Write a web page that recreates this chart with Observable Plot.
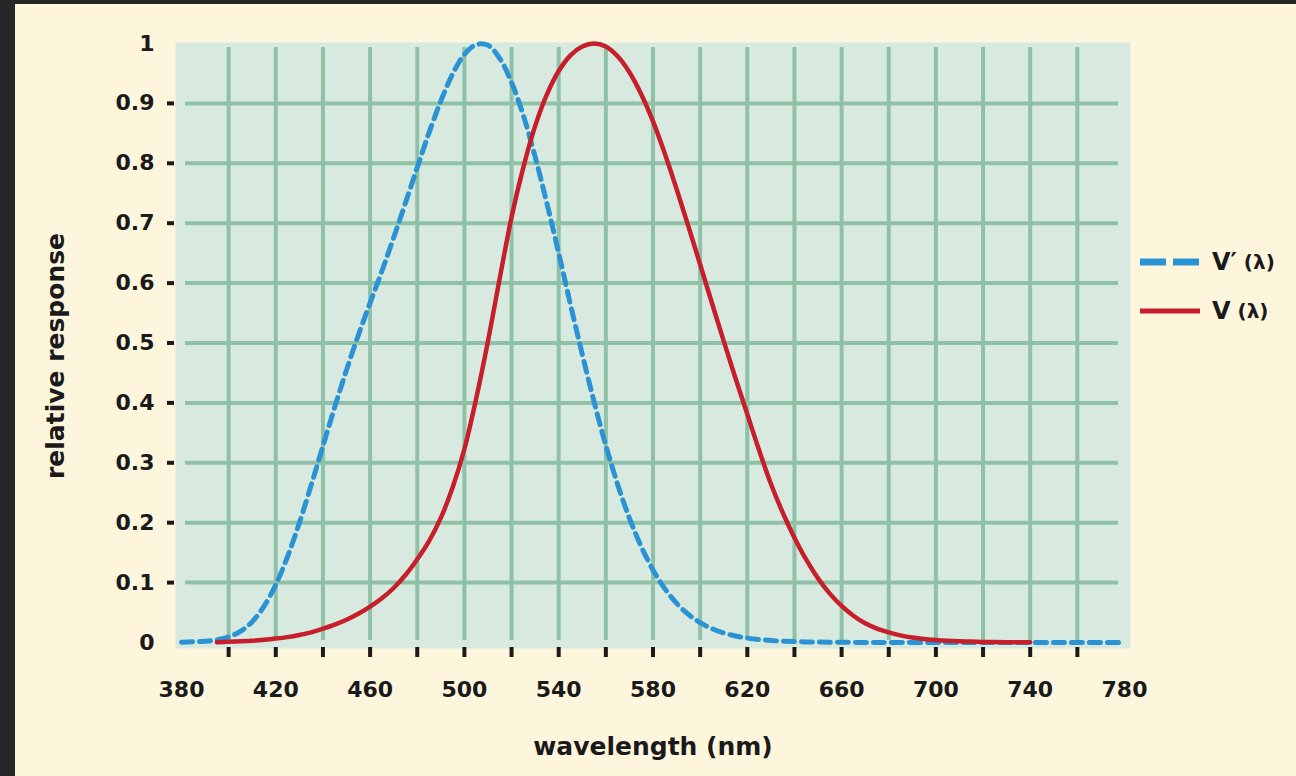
<!DOCTYPE html>
<html>
<head>
<meta charset="utf-8">
<script src="https://cdn.jsdelivr.net/npm/d3@7"></script>
<script src="https://cdn.jsdelivr.net/npm/@observablehq/plot@0.6"></script>
<style>
  html, body { margin: 0; padding: 0; background: #262626; width: 1296px; height: 776px; overflow: hidden; }
  #wrap { position: absolute; left: 15px; top: 4px; width: 1281px; height: 772px; background: #fdf6dd; font-family: "DejaVu Sans", sans-serif; }
  #chart { position: absolute; left: 0; top: 0; }
  .leg { position: absolute; left: 1125px; display: flex; align-items: center; font-weight: bold; color: #1a1a1a; }
  .leg svg { margin-right: 12px; }
  .leg .v { font-size: 24px; }
  .leg .l { font-size: 20px; }
</style>
</head>
<body>
<div id="wrap">
  <div id="chart"></div>
  <div id="legend"></div>
</div>
<script>
// ---- data ----
const seriesNames = ["V′ (λ)", "V (λ)"];

// scotopic V′(λ), blue dashed
const scotopicWavelength = [380,385,390,395,400,405,410,415,420,425,430,435,440,445,450,455,460,465,470,475,480,485,490,495,500,505,510,515,520,525,530,535,540,545,550,555,560,565,570,575,580,585,590,595,600,605,610,615,620,625,630,635,640,645,650,660,670,680,700,720,740,760,780];
const scotopicValue = [0.0006,0.0011,0.0022,0.0045,0.0093,0.0185,0.0348,0.0604,0.0966,0.1436,0.1998,0.2625,0.3281,0.3931,0.455,0.513,0.567,0.62,0.676,0.734,0.793,0.851,0.904,0.949,0.982,0.998,0.997,0.975,0.935,0.88,0.811,0.733,0.65,0.564,0.481,0.402,0.3288,0.2639,0.2076,0.1602,0.1212,0.0899,0.0655,0.0469,0.0332,0.0231,0.0159,0.0109,0.0074,0.005,0.0033,0.0022,0.0015,0.001,0.0007,0.0003,0.00015,0.00007,0.00002,0,0,0,0];

// photopic V(λ), red solid
const photopicWavelength = [395,400,405,410,415,420,425,430,435,440,445,450,455,460,465,470,475,480,485,490,495,500,505,510,515,520,525,530,535,540,545,550,555,560,565,570,575,580,585,590,595,600,605,610,615,620,625,630,635,640,645,650,655,660,665,670,675,680,685,690,695,700,705,710,715,720,725,730,735,740];
const photopicValue = [0.0004,0.0012,0.002,0.003,0.0045,0.0065,0.009,0.0125,0.0168,0.023,0.0298,0.038,0.048,0.06,0.0739,0.091,0.1126,0.139,0.1693,0.208,0.2586,0.323,0.4073,0.503,0.6082,0.71,0.7932,0.862,0.9149,0.954,0.9803,0.995,1.0,0.995,0.9786,0.952,0.9154,0.87,0.8163,0.757,0.6949,0.631,0.5668,0.503,0.4412,0.381,0.321,0.265,0.217,0.175,0.1382,0.107,0.0816,0.061,0.0446,0.032,0.0232,0.017,0.0119,0.0082,0.0057,0.0041,0.0029,0.0021,0.0015,0.001,0.0007,0.0005,0.0004,0.0003];

// ticks
const xTickLabels = [380,420,460,500,540,580,620,660,700,740,780];
const xTickMarks = [400,420,440,460,480,500,520,540,560,580,600,620,640,660,680,700,720,740,760];
const yTickValues = [0,0.1,0.2,0.3,0.4,0.5,0.6,0.7,0.8,0.9,1];
const yTickLabels = ["0","0.1","0.2","0.3","0.4","0.5","0.6","0.7","0.8","0.9","1"];
const yTickMarks = [0.1,0.2,0.3,0.4,0.5,0.6,0.7,0.8,0.9];
const xTitle = "wavelength (nm)";
const yTitle = "relative response";

// ---- style ----
const blue = "#2b93d4";
const red = "#c61f2b";
const panel = "#d8eae0";
const gridColor = "#8fc1a6";
const ink = "#1a1a1a";
const font = "DejaVu Sans, sans-serif";

const scotopic = scotopicWavelength.map((w, i) => ({wl: w, v: scotopicValue[i]}));
const photopic = photopicWavelength.map((w, i) => ({wl: w, v: photopicValue[i]}));

const chart = Plot.plot({
  width: 1281,
  height: 772,
  marginLeft: 166,
  marginRight: 172,
  marginTop: 39,
  marginBottom: 134,
  style: {background: "transparent", fontFamily: font, color: ink, overflow: "visible"},
  x: {domain: [380, 780]},
  y: {domain: [0, 1]},
  marks: [
    Plot.frame({fill: panel, stroke: null, insetLeft: -6, insetRight: -6, insetTop: -1, insetBottom: -6}),
    Plot.gridX(xTickMarks, {stroke: gridColor, strokeWidth: 4, strokeOpacity: 1, insetTop: 4, insetBottom: 2}),
    Plot.gridY(yTickMarks, {stroke: gridColor, strokeWidth: 4, strokeOpacity: 1, insetLeft: 4, insetRight: 6}),
    // y tick marks
    Plot.axisY(yTickMarks, {tickSize: 7, dx: -7, tickFormat: () => "", stroke: ink, strokeWidth: 4, label: null}),
    // y tick labels
    Plot.axisY(yTickValues, {tickSize: 0, tickPadding: 27, tickFormat: (d) => yTickLabels[yTickValues.indexOf(d)], fontSize: 22, fontWeight: "bold", fill: ink, label: null}),
    // x tick marks
    Plot.axisX(xTickMarks, {tickSize: 10, dy: 5, tickFormat: () => "", stroke: ink, strokeWidth: 4, label: null}),
    // x tick labels
    Plot.axisX(xTickLabels, {tickSize: 0, tickPadding: 39, tickFormat: (d) => String(d), fontSize: 22, fontWeight: "bold", fill: ink, label: null}),
    // axis titles
    Plot.text([xTitle], {frameAnchor: "bottom", dy: 112, lineAnchor: "bottom", textAnchor: "middle", fontSize: 25, fontWeight: "bold", fill: ink}),
    Plot.text([yTitle], {frameAnchor: "left", dx: -126, dy: 13, rotate: -90, textAnchor: "middle", fontSize: 25, fontWeight: "bold", fill: ink}),
    // curves
    Plot.line(scotopic, {x: "wl", y: "v", stroke: blue, strokeWidth: 5, strokeDasharray: "11,7", curve: "catmull-rom"}),
    Plot.line(photopic, {x: "wl", y: "v", stroke: red, strokeWidth: 4.5, curve: "catmull-rom"})
  ]
});
document.getElementById("chart").appendChild(chart);

// legend
const legend = document.getElementById("legend");
const items = [
  {name: seriesNames[0], top: 259, swatch: `<svg width="60" height="12"><line x1="0" y1="6" x2="60" y2="6" stroke="${blue}" stroke-width="7" stroke-dasharray="26,7"/></svg>`},
  {name: seriesNames[1], top: 308, swatch: `<svg width="60" height="12"><line x1="0" y1="6" x2="60" y2="6" stroke="${red}" stroke-width="5"/></svg>`}
];
for (const it of items) {
  const div = document.createElement("div");
  div.className = "leg";
  div.style.top = (it.top - 15) + "px";
  const [v, l] = it.name.split(" ");
  div.innerHTML = it.swatch + `<span class="v">${v}</span><span class="l">&nbsp;${l}</span>`;
  legend.appendChild(div);
}
</script>
</body>
</html>
